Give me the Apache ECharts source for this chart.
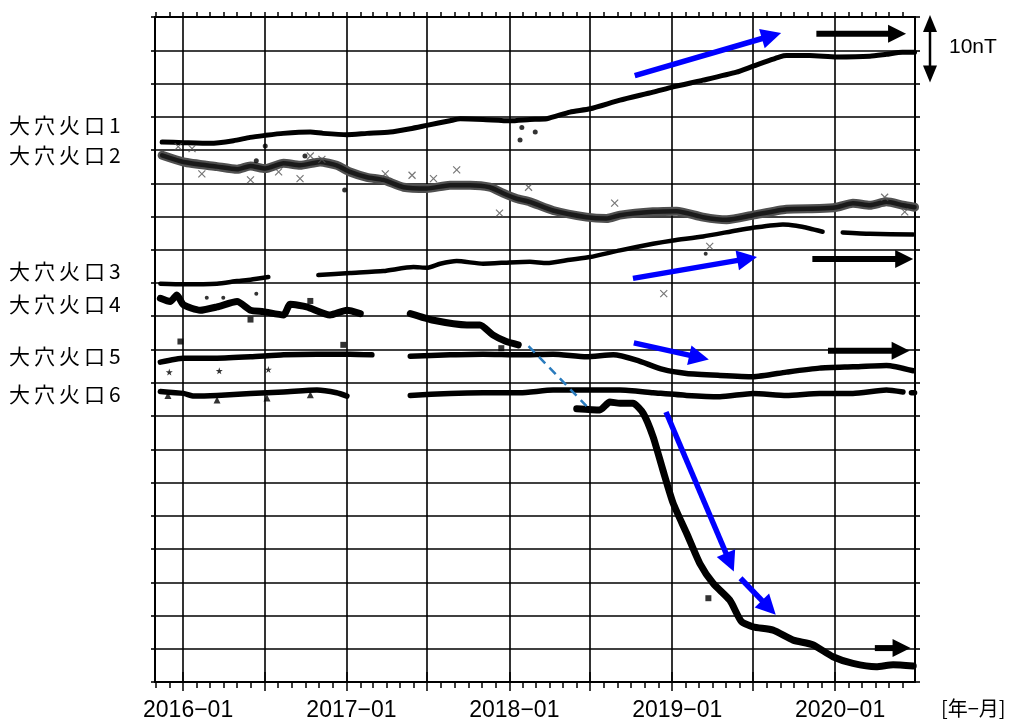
<!DOCTYPE html>
<html>
<head>
<meta charset="utf-8">
<script src="https://cdn.jsdelivr.net/npm/echarts@6/dist/echarts.min.js"></script>
<style>
  html, body { margin: 0; padding: 0; background: #fff; }
  #chart { width: 1015px; height: 722px; }
</style>
</head>
<body>
<div id="chart"></div>
<script>
// Total magnetic intensity at the Oana crater stations, relative values in nT.
// Each curve is plotted with its own offset; one grid step is 5 nT.

const stationNames = ['大穴火口1', '大穴火口2', '大穴火口3', '大穴火口4', '大穴火口5', '大穴火口6'];

const yearTickDates = ['2016-01-01', '2017-01-01', '2018-01-01', '2019-01-01', '2020-01-01'];
const yearLabels = ['2016−01', '2017−01', '2018−01', '2019−01', '2020−01'];
const axisStart = '2015-10-30';
const axisEnd = '2020-06-28';

// '-' marks a break in the record
const station1 = [
  ['2015-11-15', 81.2], ['2016-01-02', 81.1], ['2016-03-02', 81.0], ['2016-04-23', 81.4], ['2016-05-30', 81.9],
  ['2016-07-03', 82.2], ['2016-08-12', 82.5], ['2016-10-12', 82.7], ['2016-11-10', 82.5], ['2017-01-02', 82.3],
  ['2017-02-16', 82.5], ['2017-04-09', 82.7], ['2017-05-24', 83.2], ['2017-06-30', 83.7], ['2017-08-21', 84.4],
  ['2017-09-13', 84.7], ['2017-11-03', 84.6], ['2018-01-03', 84.4], ['2018-02-16', 84.6], ['2018-03-26', 84.7],
  ['2018-05-17', 85.7], ['2018-07-01', 86.2], ['2018-09-06', 87.5], ['2018-11-19', 88.7], ['2019-01-03', 89.5],
  ['2019-03-11', 90.5], ['2019-05-25', 91.7], ['2019-07-01', 92.6], ['2019-08-30', 94.0], ['2019-09-14', 94.2],
  ['2019-11-05', 94.2], ['2020-01-04', 94.0], ['2020-03-19', 94.1], ['2020-04-25', 94.4], ['2020-05-31', 94.7],
  ['2020-06-27', 94.7]
];
const station1Outliers = [
  ['2016-07-03', 80.6], ['2016-06-13', 78.4], ['2016-09-30', 79.1], ['2016-12-28', 74.0],
  ['2018-01-25', 81.5], ['2018-01-29', 83.4], ['2018-02-28', 82.7]
];

const station2 = [
  ['2015-11-15', 79.2], ['2016-01-02', 78.2], ['2016-03-17', 77.5], ['2016-05-01', 77.1], ['2016-05-31', 77.6],
  ['2016-07-03', 77.2], ['2016-08-13', 78.0], ['2016-09-19', 77.7], ['2016-11-03', 78.2], ['2016-12-10', 77.7],
  ['2017-01-09', 76.7], ['2017-02-16', 75.9], ['2017-03-25', 75.5], ['2017-05-09', 74.4], ['2017-06-30', 74.2],
  ['2017-08-21', 74.7], ['2017-10-05', 74.7], ['2017-11-18', 74.4], ['2017-12-18', 73.5], ['2018-01-17', 72.7],
  ['2018-02-16', 72.2], ['2018-04-09', 70.9], ['2018-06-23', 69.9], ['2018-08-07', 69.7], ['2018-09-06', 70.2],
  ['2018-11-19', 70.7], ['2019-01-11', 70.8], ['2019-03-11', 69.9], ['2019-05-03', 69.5], ['2019-07-01', 70.2],
  ['2019-09-14', 71.1], ['2019-11-27', 71.2], ['2020-01-04', 71.4], ['2020-02-10', 72.0], ['2020-03-19', 71.7],
  ['2020-04-25', 72.2], ['2020-06-01', 71.7], ['2020-06-27', 71.4]
];
const station2Outliers = [
  ['2015-12-21', 80.5], ['2016-01-21', 80.2], ['2016-02-12', 76.4], ['2016-05-31', 75.5], ['2016-08-02', 76.7],
  ['2016-09-19', 75.7], ['2016-10-12', 79.1], ['2016-11-07', 78.6], ['2017-03-29', 76.4], ['2017-05-28', 76.2],
  ['2017-07-15', 75.7], ['2017-09-05', 77.0], ['2017-12-10', 70.5], ['2018-02-13', 74.4], ['2018-08-25', 72.0],
  ['2018-12-13', 58.4], ['2019-03-26', 65.5], ['2020-04-21', 72.9], ['2020-06-05', 70.7]
];

const station3 = [
  ['2015-11-11', 59.9], ['2016-01-02', 59.8], ['2016-03-17', 59.9], ['2016-05-01', 60.3], ['2016-05-31', 60.5],
  ['2016-07-10', 60.9], ['2016-09-01', '-'],
  ['2016-10-30', 61.2], ['2017-01-09', 61.5], ['2017-03-25', 61.8], ['2017-05-31', 62.4], ['2017-06-30', 62.3],
  ['2017-07-30', 62.9], ['2017-09-05', 63.3], ['2017-11-03', 62.9], ['2018-01-02', 63.1], ['2018-02-16', 63.2],
  ['2018-03-26', 63.0], ['2018-05-17', 63.5], ['2018-07-01', 63.9], ['2018-09-06', 64.9], ['2018-11-19', 65.9],
  ['2019-01-03', 66.4], ['2019-03-11', 67.0], ['2019-05-25', 67.9], ['2019-07-01', 68.3], ['2019-09-06', 68.8],
  ['2019-10-06', 68.6], ['2019-11-05', 68.2], ['2019-12-04', 67.7], ['2019-12-12', '-'],
  ['2020-01-18', 67.6], ['2020-03-19', 67.4], ['2020-06-24', 67.3]
];
const station3Outliers = [
  ['2016-02-23', 57.8], ['2016-03-31', 57.8], ['2016-06-13', 58.4], ['2019-03-17', 64.4]
];

const station4 = [
  ['2015-11-11', 57.7], ['2015-12-03', 57.2], ['2015-12-18', 58.2], ['2016-01-02', 56.7], ['2016-02-08', 55.9],
  ['2016-03-17', 56.4], ['2016-05-01', 57.2], ['2016-05-31', 55.9], ['2016-06-29', 55.7], ['2016-08-13', 55.2],
  ['2016-08-28', 56.8], ['2016-10-04', 56.4], ['2016-11-25', 55.2], ['2017-01-02', 55.9], ['2017-02-01', 55.4],
  ['2017-03-15', '-'],
  ['2017-05-24', 55.4], ['2017-07-15', 54.4], ['2017-09-28', 53.7], ['2017-10-27', 53.7], ['2017-11-25', 52.2],
  ['2017-12-25', 51.2], ['2018-01-21', 50.7], ['2018-03-15', '-'],
  ['2018-06-01', 41.1], ['2018-07-23', 40.9], ['2018-08-14', 42.1], ['2018-09-06', 41.9], ['2018-10-05', 41.9],
  ['2018-10-28', 40.4], ['2018-11-19', 36.9], ['2018-12-11', 31.9], ['2019-01-03', 26.9], ['2019-02-02', 22.4],
  ['2019-03-04', 17.8], ['2019-04-03', 14.8], ['2019-05-10', 12.3], ['2019-06-05', 9.1], ['2019-07-01', 8.3],
  ['2019-08-15', 7.8], ['2019-09-29', 6.3], ['2019-11-12', 5.6], ['2019-12-27', 3.8], ['2020-02-10', 2.8],
  ['2020-04-02', 2.3], ['2020-05-10', 2.6], ['2020-06-24', 2.4]
];
const station4Outliers = [
  ['2015-12-26', 51.2], ['2016-05-31', 54.5], ['2016-10-12', 57.3], ['2016-12-25', 50.7],
  ['2017-12-14', 50.2], ['2019-03-23', 12.6]
];
// assumed trend across the missing part of station 4
const station4Bridge = [['2018-02-13', 50.5], ['2018-06-23', 41.5]];

const station5 = [
  ['2015-11-11', 48.1], ['2016-01-02', 48.7], ['2016-03-17', 48.7], ['2016-05-31', 48.9], ['2016-08-13', 49.2],
  ['2016-10-27', 49.3], ['2017-01-09', 49.3], ['2017-02-27', 49.2], ['2017-04-01', '-'],
  ['2017-05-24', 49.0], ['2017-08-21', 49.2], ['2017-11-03', 49.3], ['2018-01-25', 49.2], ['2018-04-09', 49.3],
  ['2018-06-23', 48.9], ['2018-08-22', 49.2], ['2018-10-13', 48.4], ['2018-12-11', 47.0], ['2019-02-02', 46.4],
  ['2019-04-18', 46.1], ['2019-07-01', 45.9], ['2019-09-14', 46.6], ['2019-11-27', 47.2], ['2020-02-10', 47.4],
  ['2020-04-25', 47.6], ['2020-06-24', 46.8]
];
const station5Outliers = [['2015-12-01', 46.6], ['2016-03-22', 46.8], ['2016-07-10', 47.0]];

const station6 = [
  ['2015-11-11', 43.7], ['2016-01-02', 43.4], ['2016-01-25', 43.0], ['2016-03-17', 43.1], ['2016-05-31', 43.4],
  ['2016-08-13', 43.6], ['2016-10-27', 43.9], ['2016-12-10', 43.5], ['2017-01-02', 43.0], ['2017-03-01', '-'],
  ['2017-05-24', 43.1], ['2017-08-21', 43.4], ['2017-11-03', 43.5], ['2018-01-25', 43.5], ['2018-04-09', 43.9],
  ['2018-06-23', 43.9], ['2018-09-06', 43.9], ['2018-11-19', 43.5], ['2019-02-02', 43.1], ['2019-04-18', 42.9],
  ['2019-07-01', 43.4], ['2019-09-14', 43.1], ['2019-11-27', 43.4], ['2020-02-10', 43.4], ['2020-04-25', 43.9],
  ['2020-06-01', 43.6], ['2020-06-10', '-'], ['2020-06-20', 43.5], ['2020-06-27', 43.5]
];
const station6Outliers = [['2015-11-28', 43.1], ['2016-03-17', 42.4], ['2016-07-07', 42.7], ['2016-10-12', 43.2]];

// trend arrows: [from date, from nT, to date, to nT]
const changeArrows = [
  ['2018-10-09', 91.2, '2019-09-02', 97.6],
  ['2018-10-05', 60.7, '2019-07-10', 63.9],
  ['2018-10-07', 51.0, '2019-03-24', 48.5],
  ['2018-12-18', 40.6, '2019-05-19', 16.6],
  ['2019-06-03', 15.6, '2019-08-21', 10.1]
];
const steadyArrows = [
  ['2019-11-20', 97.5, '2020-06-08', 97.5],
  ['2019-11-11', 63.6, '2020-06-24', 63.6],
  ['2019-12-16', 49.8, '2020-06-16', 49.8],
  ['2020-03-30', 5.1, '2020-06-18', 5.1]
];

// label rows (pixel centre heights) for the station names
const nameRows = [128, 158, 274, 307, 359, 397];

function toTime(s) {
  const p = s.split('-').map(Number);
  return new Date(p[0], p[1] - 1, p[2]).getTime();
}
function toPoints(rows) {
  return rows.map(r => [toTime(r[0]), r[1]]);
}

const xMin = toTime(axisStart);
const xMax = toTime(axisEnd);

const monthTicks = [];
for (let y = 2015; y <= 2020; y++) {
  for (let m = 0; m < 12; m++) {
    const t = new Date(y, m, 1).getTime();
    if (t >= xMin && t <= xMax) monthTicks.push(t);
  }
}
const halfYearTicks = monthTicks.filter(t => { const mo = new Date(t).getMonth(); return mo === 0 || mo === 6; });
const yearTicks = yearTickDates.map(toTime);

function xAxisBase(position) {
  return {
    type: 'value', position: position, min: xMin, max: xMax, scale: true,
    axisLine: { show: false },
    axisTick: { show: false },
    axisLabel: { show: false },
    splitLine: { show: false },
    axisPointer: { show: false }
  };
}

const axisColor = '#000';
const gridColor = '#000';

const xAxes = [
  Object.assign(xAxisBase('bottom'), {
    axisLine: { show: true, onZero: false, lineStyle: { color: axisColor, width: 2 } },
    axisTick: { show: true, customValues: monthTicks, length: 6, lineStyle: { color: axisColor, width: 1.5 } }
  }),
  Object.assign(xAxisBase('bottom'), {
    axisTick: { show: true, customValues: halfYearTicks, length: 9, lineStyle: { color: axisColor, width: 1.5 } },
    axisLabel: {
      show: true, customValues: yearTicks, margin: 17, color: '#000', fontSize: 23,
      fontFamily: 'Liberation Sans, Arial, sans-serif', padding: [0, 0, 0, 10],
      formatter: function (v) {
        const i = yearTicks.indexOf(v);
        return i >= 0 ? yearLabels[i] : '';
      }
    },
    splitLine: { show: true, lineStyle: { color: gridColor, width: 1.6 } }
  }),
  Object.assign(xAxisBase('top'), {
    axisLine: { show: true, onZero: false, lineStyle: { color: axisColor, width: 2 } },
    axisTick: { show: true, customValues: monthTicks, length: 5, lineStyle: { color: axisColor, width: 1.5 } }
  }),
  Object.assign(xAxisBase('top'), {
    axisTick: { show: true, customValues: halfYearTicks, length: 10, lineStyle: { color: axisColor, width: 1.5 } }
  })
];

const yAxes = [
  {
    type: 'value', position: 'left', min: 0, max: 100, interval: 5,
    axisLine: { show: true, onZero: false, lineStyle: { color: axisColor, width: 2 } },
    axisTick: { show: true, length: 4, lineStyle: { color: axisColor, width: 1.6 } },
    axisLabel: { show: false },
    splitLine: { show: true, lineStyle: { color: gridColor, width: 1.6 } }
  },
  {
    type: 'value', position: 'right', min: 0, max: 100, interval: 5,
    axisLine: { show: true, onZero: false, lineStyle: { color: axisColor, width: 2 } },
    axisTick: { show: true, length: 5, lineStyle: { color: axisColor, width: 1.6 } },
    axisLabel: { show: false },
    splitLine: { show: false }
  }
];

function traceSeries(name, data, color, width) {
  return {
    name: name, type: 'line', data: toPoints(data), xAxisIndex: 0, yAxisIndex: 0,
    symbol: 'none', showSymbol: false, connectNulls: false, smooth: 0.2,
    lineStyle: { color: color, width: width, cap: 'round', join: 'round' },
    z: 3, silent: true
  };
}

function spotSeries(name, data, symbol, size, style) {
  return {
    name: name, type: 'scatter', data: toPoints(data), xAxisIndex: 0, yAxisIndex: 0,
    symbol: symbol, symbolSize: size, itemStyle: style, z: 4, silent: true
  };
}

const crossSymbol = 'path://M0,0L10,10M10,0L0,10';
const starSymbol = 'path://M50,0L61,35L98,35L68,57L79,91L50,70L21,91L32,57L2,35L39,35Z';

function arrowSeries(name, rows, color, shaft, headLen, headWid) {
  return {
    name: name, type: 'custom', xAxisIndex: 0, yAxisIndex: 0, z: 6, silent: true,
    dimensions: ['t0', 'v0', 't1', 'v1'],
    encode: { x: [0, 2], y: [1, 3] },
    data: rows.map(r => [toTime(r[0]), r[1], toTime(r[2]), r[3]]),
    renderItem: function (params, api) {
      const p0 = api.coord([api.value(0), api.value(1)]);
      const p1 = api.coord([api.value(2), api.value(3)]);
      const dx = p1[0] - p0[0], dy = p1[1] - p0[1];
      const len = Math.sqrt(dx * dx + dy * dy);
      const ux = dx / len, uy = dy / len;
      const nx = -uy, ny = ux;
      const bx = p1[0] - ux * headLen, by = p1[1] - uy * headLen;
      return {
        type: 'group',
        children: [
          { type: 'line', shape: { x1: p0[0], y1: p0[1], x2: bx + ux * 2, y2: by + uy * 2 },
            style: { stroke: color, lineWidth: shaft, lineCap: 'butt' } },
          { type: 'polygon', shape: { points: [[p1[0], p1[1]], [bx + nx * headWid / 2, by + ny * headWid / 2], [bx - nx * headWid / 2, by - ny * headWid / 2]] },
            style: { fill: color } }
        ]
      };
    }
  };
}

const labelFont = "'Noto Sans CJK JP', 'Noto Sans CJK SC', sans-serif";

function nameLabel(text, yCenter) {
  const chars = Array.from(text);
  const rich = { c: { width: 25, fontSize: 21, fontFamily: labelFont, fill: '#000' } };
  return {
    type: 'text', left: 9, top: yCenter - 13, silent: true,
    style: {
      text: chars.map(ch => '{c|' + ch + '}').join(''),
      rich: rich, fontSize: 21, fontFamily: labelFont, fill: '#000'
    }
  };
}

const chart = echarts.init(document.getElementById('chart'), null, { renderer: 'canvas' });

const option = {
  animation: false,
  backgroundColor: '#fff',
  grid: { left: 155, right: 100, top: 17, bottom: 40, containLabel: false },
  xAxis: xAxes,
  yAxis: yAxes,
  series: [
    // station 2: dense grey cross markers, drawn as a soft dark band
    traceSeries(stationNames[1] + ' band', station2, '#505050', 9),
    traceSeries(stationNames[1], station2, '#1a1a1a', 4.5),
    spotSeries(stationNames[1] + ' x', station2Outliers, crossSymbol, 7, { color: 'rgba(0,0,0,0)', borderColor: '#555', borderWidth: 1.2 }),
    traceSeries(stationNames[0], station1, '#000', 5),
    spotSeries(stationNames[0] + ' o', station1Outliers, 'circle', 5, { color: '#000' }),
    traceSeries(stationNames[2], station3, '#000', 4.5),
    spotSeries(stationNames[2] + ' o', station3Outliers, 'circle', 4, { color: '#000' }),
    traceSeries(stationNames[3], station4, '#000', 7),
    spotSeries(stationNames[3] + ' o', station4Outliers, 'rect', 6, { color: '#000' }),
    {
      name: stationNames[3] + ' bridge', type: 'line', data: toPoints(station4Bridge), xAxisIndex: 0, yAxisIndex: 0,
      symbol: 'none', silent: true, z: 5,
      lineStyle: { color: '#2a7bbd', width: 2.5, type: [9, 6] }
    },
    traceSeries(stationNames[4], station5, '#000', 5.5),
    spotSeries(stationNames[4] + ' o', station5Outliers, starSymbol, 7, { color: '#000' }),
    traceSeries(stationNames[5], station6, '#000', 5.5),
    spotSeries(stationNames[5] + ' o', station6Outliers, 'triangle', 7, { color: '#000' }),
    arrowSeries('change', changeArrows, '#0000ff', 5.5, 20, 20),
    arrowSeries('steady', steadyArrows, '#000', 6, 18, 18)
  ]
};

chart.setOption(option);

// 10 nT scale bar and texts
const yTop = chart.convertToPixel({ yAxisIndex: 0 }, 100);
const yTen = chart.convertToPixel({ yAxisIndex: 0 }, 90);
const barX = 930;
const graphics = [
  { type: 'line', silent: true, shape: { x1: barX, y1: yTop + 12, x2: barX, y2: yTen - 14 }, style: { stroke: '#000', lineWidth: 2.5 } },
  { type: 'polygon', silent: true, shape: { points: [[barX, yTop - 2], [barX - 7, yTop + 15], [barX + 7, yTop + 15]] }, style: { fill: '#000' } },
  { type: 'polygon', silent: true, shape: { points: [[barX, yTen - 1], [barX - 7, yTen - 18], [barX + 7, yTen - 18]] }, style: { fill: '#000' } },
  { type: 'text', silent: true, left: 949, top: (yTop + yTen) / 2 - 14,
    style: { text: '10nT', fontSize: 21, fontFamily: 'Liberation Sans, Arial, sans-serif', fill: '#000' } },
  { type: 'text', silent: true, left: 941, top: 698,
    style: { text: '[年−月]', fontSize: 20, fontFamily: labelFont, fill: '#000' } }
];
stationNames.forEach((n, i) => graphics.push(nameLabel(n, nameRows[i])));
chart.setOption({ graphic: graphics });
</script>
</body>
</html>
